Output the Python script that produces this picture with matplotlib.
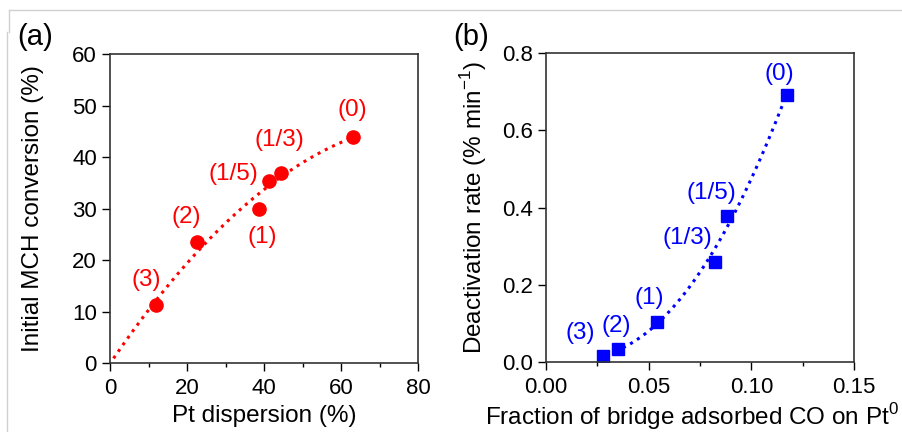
import numpy as np
import matplotlib
matplotlib.use("Agg")
import matplotlib.pyplot as plt
from matplotlib.lines import Line2D
from matplotlib.ticker import MultipleLocator

plt.rcParams['font.family'] = ['Liberation Sans', 'DejaVu Sans']
plt.rcParams['mathtext.fontset'] = 'custom'
plt.rcParams['mathtext.rm'] = 'Liberation Sans'

# panel (a): Pt dispersion vs initial MCH conversion
labels_a = ['(3)', '(2)', '(1)', '(1/5)', '(1/3)', '(0)']
disp = [11.9, 22.5, 38.6, 41.4, 44.4, 63.0]
conv = [11.2, 23.6, 29.9, 35.3, 37.0, 43.9]
lab_a_x = [9.5, 19.7, 39.4, 32.0, 44.0, 62.9]
lab_a_y = [16.1, 28.3, 24.5, 36.7, 43.4, 49.1]

# panel (b): bridge CO fraction vs deactivation rate
labels_b = ['(3)', '(2)', '(1)', '(1/3)', '(1/5)', '(0)']
bridge = [0.0279, 0.0352, 0.0541, 0.0822, 0.0880, 0.1172]
deact = [0.0155, 0.035, 0.104, 0.259, 0.379, 0.692]
lab_b_x = [0.0166, 0.0341, 0.0503, 0.0688, 0.0807, 0.1137]
lab_b_y = [0.074, 0.093, 0.167, 0.322, 0.439, 0.746]

RED = '#FF0000'
BLUE = '#0000FF'

fig = plt.figure(figsize=(9.02, 4.32), dpi=100)
ax1 = fig.add_axes([0.122, 0.1597, 0.3415, 0.715])
ax2 = fig.add_axes([0.6053, 0.162, 0.3415, 0.715])


def style(ax):
    ax.tick_params(which='major', direction='out', length=5.5, width=1,
                   labelsize=16, top=False, right=False)
    ax.tick_params(axis='x', which='major', pad=5.5)
    ax.tick_params(axis='y', which='major', pad=4)
    ax.tick_params(which='minor', direction='out', length=3, width=1,
                   top=False, right=False)
    for s in ax.spines.values():
        s.set_linewidth(1.2)
        s.set_color('#333333')


# (a) fit line
ca = np.polyfit(disp, conv, 2)
xa = np.linspace(0.9, 63.0, 200)
ax1.plot(xa, np.polyval(ca, xa), ':', color=RED, lw=2.2)
ax1.plot(disp, conv, 'o', color=RED, ms=9.5)
for t, x, y in zip(labels_a, lab_a_x, lab_a_y):
    ax1.text(x, y, t, color=RED, fontsize=17.5, ha='center', va='center')
ax1.set_xlim(0, 80)
ax1.set_ylim(0, 60)
ax1.xaxis.set_major_locator(MultipleLocator(20))
ax1.xaxis.set_minor_locator(MultipleLocator(10))
ax1.yaxis.set_major_locator(MultipleLocator(10))
ax1.set_xlabel('Pt dispersion (%)', fontsize=17.5)
ax1.set_ylabel('Initial MCH conversion (%)', fontsize=17.5)
ax1.xaxis.set_label_coords(0.5, -0.137)
ax1.yaxis.set_label_coords(-0.215, 0.5)
style(ax1)

# (b) fit line
cb = np.polyfit(bridge, deact, 3)
xb = np.linspace(0.0375, 0.1172, 200)
ax2.plot(xb, np.polyval(cb, xb), ':', color=BLUE, lw=2.2)
ax2.plot(bridge, deact, 's', color=BLUE, ms=8.5)
for t, x, y in zip(labels_b, lab_b_x, lab_b_y):
    ax2.text(x, y, t, color=BLUE, fontsize=17.5, ha='center', va='center')
ax2.set_xlim(0, 0.15)
ax2.set_ylim(0, 0.8)
ax2.xaxis.set_major_locator(MultipleLocator(0.05))
ax2.xaxis.set_minor_locator(MultipleLocator(0.025))
ax2.yaxis.set_major_locator(MultipleLocator(0.2))
ax2.xaxis.set_major_formatter(plt.FuncFormatter(lambda v, p: f'{v:.2f}'))
ax2.yaxis.set_major_formatter(plt.FuncFormatter(lambda v, p: f'{v:.1f}'))
ax2.set_xlabel('Fraction of bridge adsorbed CO on Pt$^{0}$', fontsize=17.5)
ax2.set_ylabel('Deactivation rate (% min$^{-1}$)', fontsize=17.5)
ax2.xaxis.set_label_coords(0.474, -0.128)
ax2.yaxis.set_label_coords(-0.185, 0.5)
style(ax2)

fig.text(17 / 902, 1 - 37 / 432, '(a)', fontsize=21, ha='left', va='center')
fig.text(453 / 902, 1 - 37 / 432, '(b)', fontsize=21, ha='left', va='center')

# thin frame lines of the original screenshot
gray = '#D0D0D0'
fig.add_artist(Line2D([9 / 902, 1], [1 - 10 / 432] * 2, color=gray, lw=1,
                      transform=fig.transFigure))
fig.add_artist(Line2D([9 / 902] * 2, [1 - 10 / 432, 1 - 32 / 432], color=gray,
                      lw=1, transform=fig.transFigure))
fig.add_artist(Line2D([7 / 902] * 2, [1 - 32 / 432, 0], color=gray, lw=1,
                      transform=fig.transFigure))

fig.savefig('out.png', dpi=100)
